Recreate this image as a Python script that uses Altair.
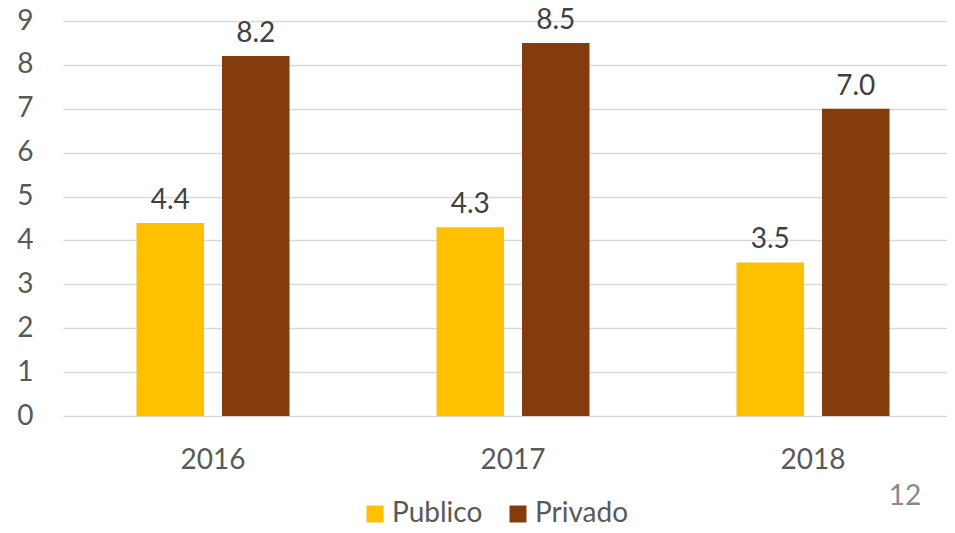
import altair as alt
import pandas as pd

years = ["2016", "2017", "2018"]
publico = [4.4, 4.3, 3.5]
privado = [8.2, 8.5, 7.0]
series = ["Publico", "Privado"]
colors = ["#FFC000", "#843C0C"]
page_number = ["12"]

rows = []
for i, y in enumerate(years):
    rows.append({"year": y, "serie": "Publico", "value": publico[i]})
    rows.append({"year": y, "serie": "Privado", "value": privado[i]})
df = pd.DataFrame(rows)

FONT = "Lato"

x_enc = alt.X("year:N", sort=years, title=None,
              scale=alt.Scale(range=[0, 900], paddingInner=0, paddingOuter=0),
              axis=alt.Axis(labelAngle=0, ticks=False, domain=False, grid=False,
                            labelFontSize=28, labelFont=FONT, labelColor="#595959",
                            labelPadding=30))
xo_enc = alt.XOffset("serie:N", sort=series,
                     scale=alt.Scale(paddingInner=0.2105, paddingOuter=0.8596))

base = alt.Chart(df)

bars = base.mark_bar().encode(
    x=x_enc,
    xOffset=xo_enc,
    y=alt.Y("value:Q", title=None,
            scale=alt.Scale(domain=[0, 9], nice=False),
            axis=alt.Axis(values=list(range(10)), ticks=False, domain=False,
                          grid=True, gridColor="#d9d9d9", gridWidth=1.3,
                          labelFontSize=28, labelFont=FONT, labelColor="#595959",
                          labelPadding=30)),
    color=alt.Color("serie:N", sort=series,
                    scale=alt.Scale(domain=series, range=colors),
                    legend=alt.Legend(title=None, orient="none", direction="horizontal",
                                      legendX=298, legendY=479,
                                      symbolType="square", symbolSize=289,
                                      symbolStrokeWidth=0, labelFontSize=28,
                                      labelFont=FONT, labelColor="#595959",
                                      labelOffset=3, columnPadding=21, padding=0)),
)

labels = base.mark_text(baseline="alphabetic", dy=-14, fontSize=28, font=FONT,
                        color="#404040").encode(
    x=alt.X("year:N", sort=years),
    xOffset=alt.XOffset("serie:N", sort=series),
    y="value:Q",
    text=alt.Text("value:Q", format=".1f"),
)

page = alt.Chart(pd.DataFrame({"p": page_number})).mark_text(
    fontSize=28, font=FONT, color="#8a8a8a", align="center", baseline="middle"
).encode(x=alt.value(842), y=alt.value(476), text="p:N")

chart = alt.layer(bars, labels, page).properties(
    width=884, height=395,
    autosize=alt.AutoSizeParams(type="none"),
    padding={"left": 55, "top": 13, "right": 0, "bottom": 109},
    background="white",
).configure_view(stroke=None)

chart.save("out.html", embed_options={"renderer": "svg", "actions": False})
